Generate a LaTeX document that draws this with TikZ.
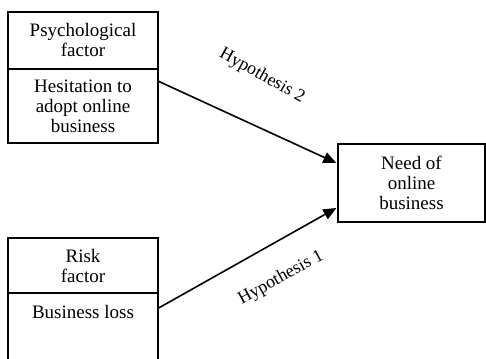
\documentclass[tikz,border=0pt]{standalone}
\usepackage{fontspec}
\setmainfont{Liberation Serif}
\usetikzlibrary{arrows.meta,calc}
\begin{document}
\begin{tikzpicture}[x=1pt,y=-1pt,
 box/.style={draw, line width=1.3pt, inner sep=0pt, align=center, font=\fontsize{19}{20}\selectfont},
 arr/.style={line width=1.6pt, -{Triangle[length=13pt,width=11pt]}},
 hyp/.style={font=\fontsize{18}{20}\selectfont, inner sep=0pt}]
\useasboundingbox (0,0) rectangle (486,358);
\clip (0,0) rectangle (486,358);
\node[box, minimum width=150pt, minimum height=57pt] (psy) at (83,40.5) {Psychological\\factor};
\node[box, minimum width=150pt, minimum height=74pt] (hes) at (83,106) {Hesitation to\\adopt online\\business};
\node[box, minimum width=150pt, minimum height=55pt] (risk) at (83,265.5) {Risk\\factor};
\node[box, minimum width=150pt, anchor=north, text height=25pt, text depth=60pt] (loss) at (83,293) {Business loss};
\node[box, minimum width=147pt, minimum height=78pt] (need) at (411.5,183) {Need of\\online\\business};
\draw[arr] ($(hes.north east)+(0,13)$) -- ($(need.west)+(-1,-20)$);
\draw[arr] ($(loss.north east)+(0,15)$) -- ($(need.west)+(-1,25)$);
\node[hyp, rotate=-29] (h2) at (262,76) {Hypothesis 2};
\node[hyp, rotate=29] (h1) at (281,278) {Hypothesis 1};
\end{tikzpicture}
\end{document}
